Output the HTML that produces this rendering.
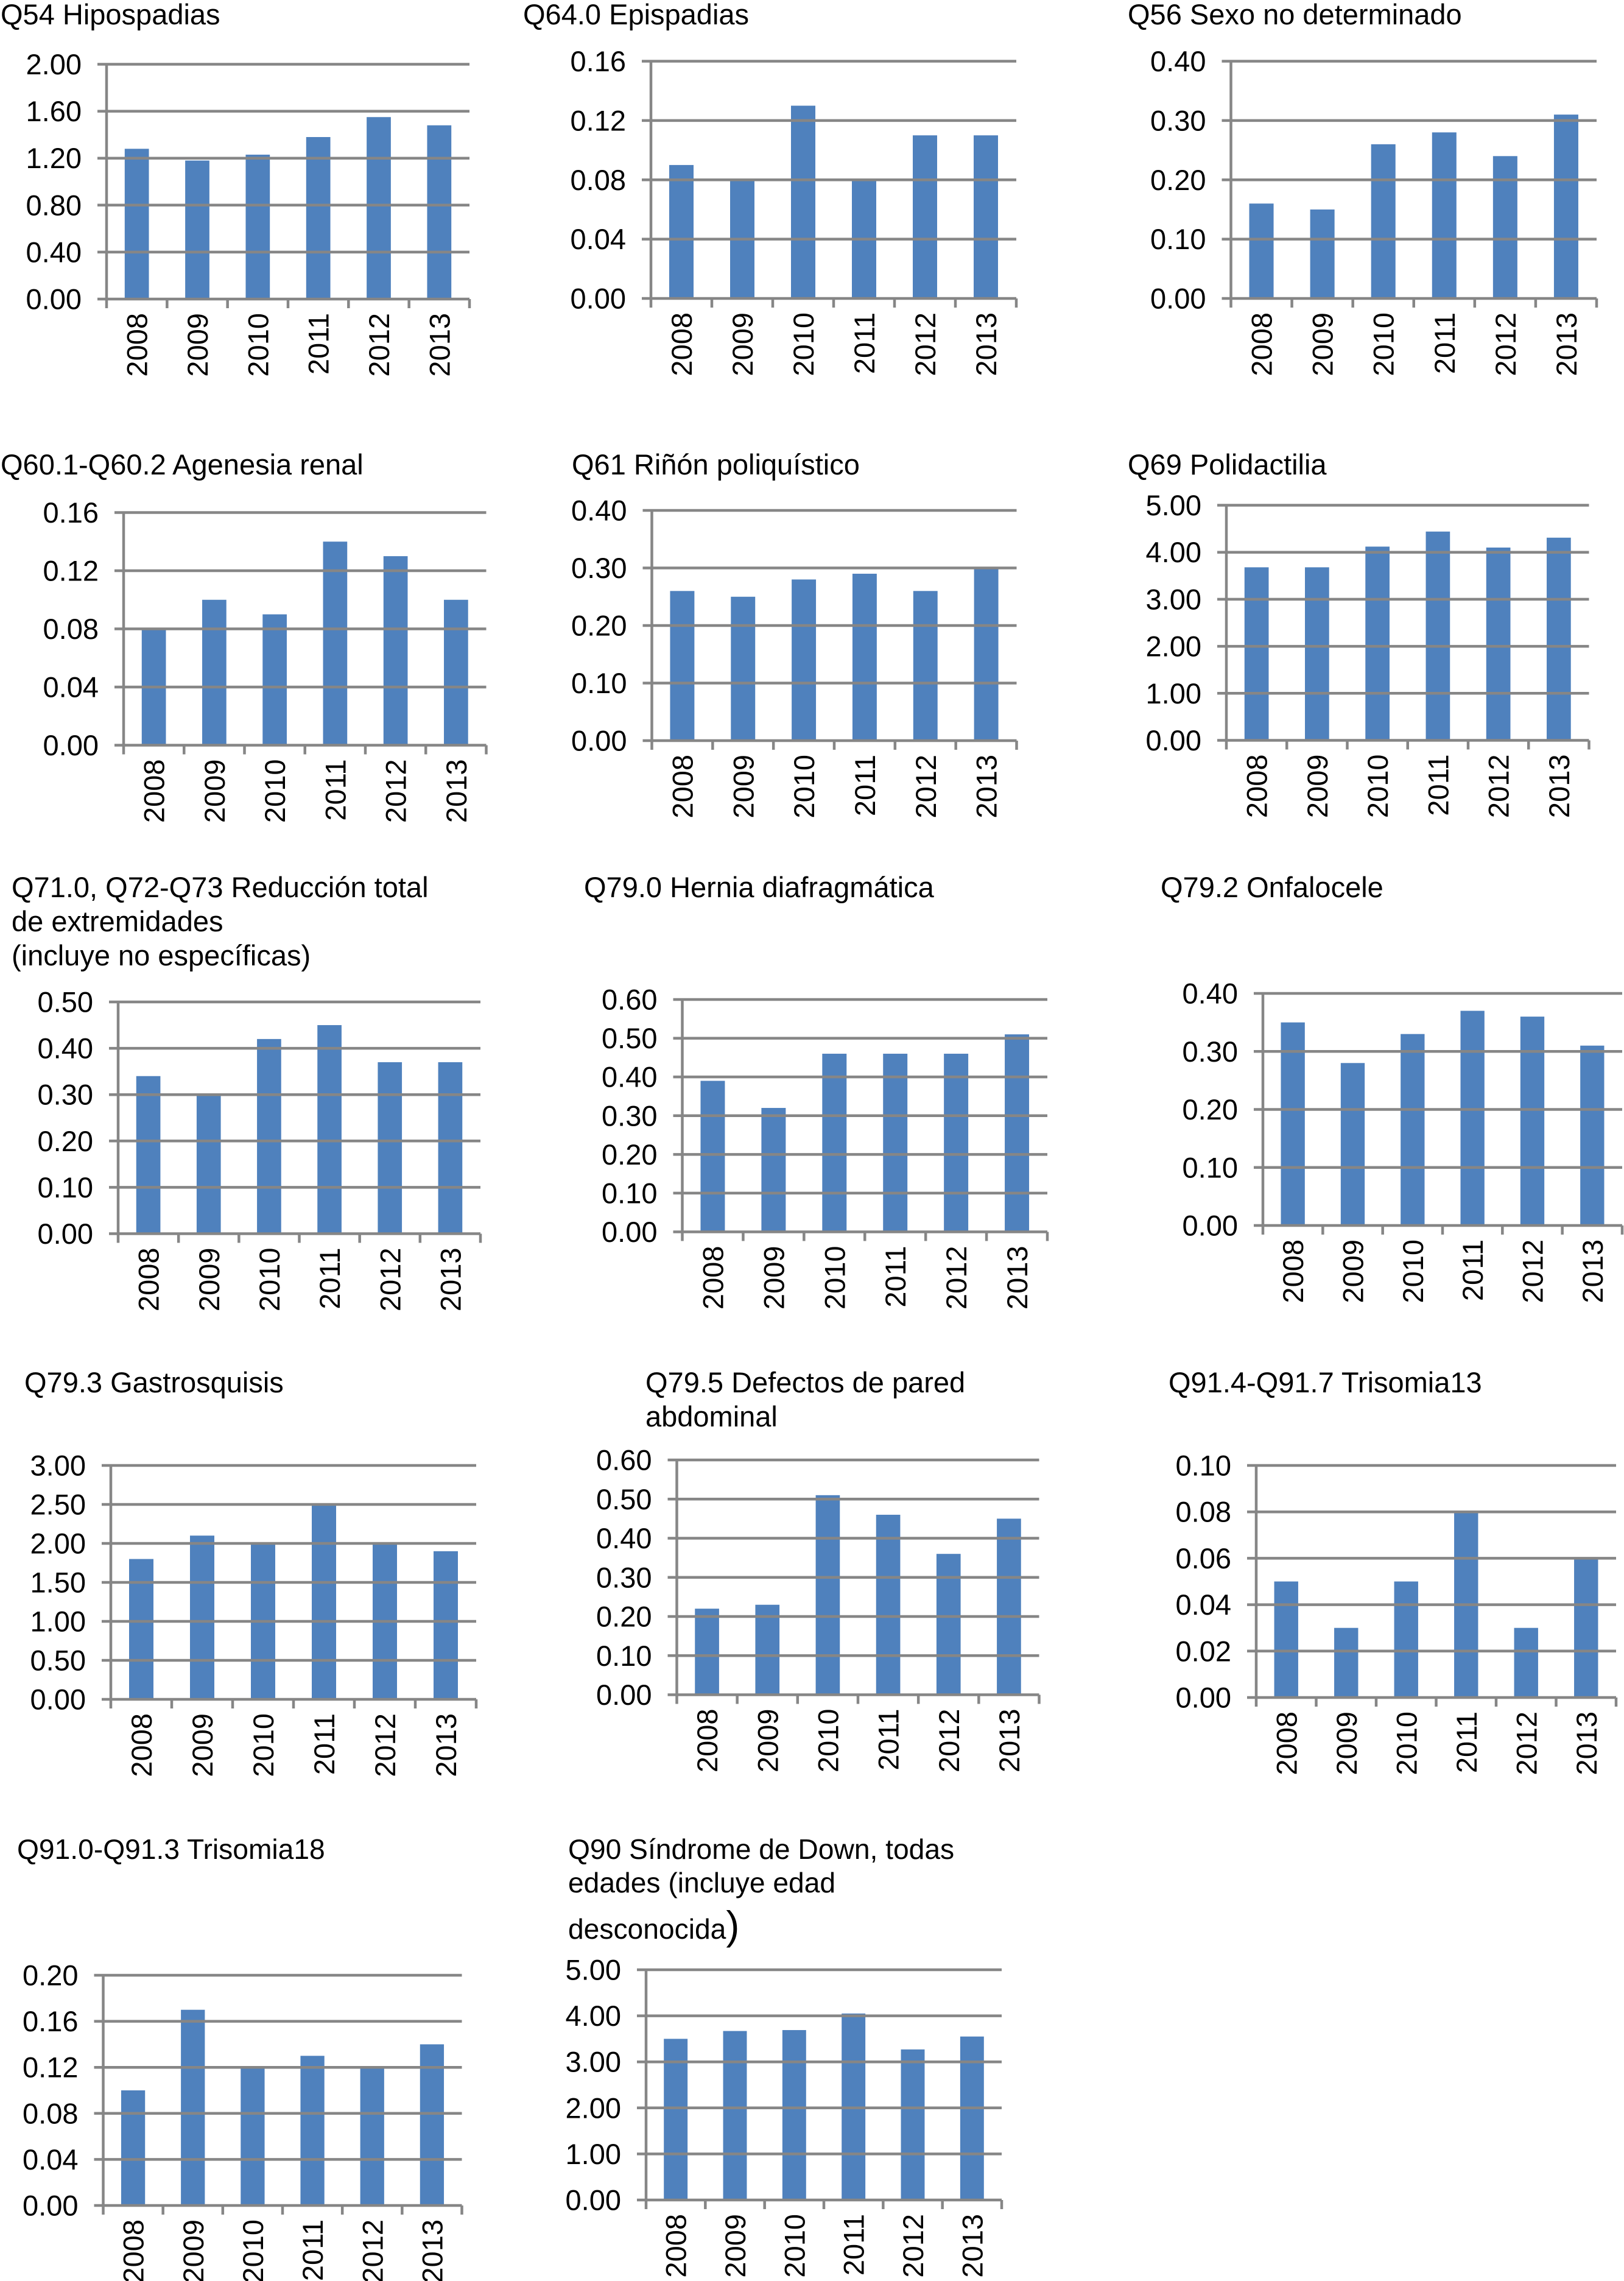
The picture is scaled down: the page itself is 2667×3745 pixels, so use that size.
<!DOCTYPE html>
<html lang="es">
<head>
<meta charset="utf-8">
<title>Anomalías congénitas 2008-2013</title>
<style>
html,body{margin:0;padding:0;background:#fff;width:2667px;height:3745px;overflow:hidden}
svg{display:block;position:absolute;left:0;top:0}
text{font-family:"Liberation Sans",sans-serif;fill:#000}
.title{font-size:47px}
.title.small{font-size:46.2px}
.tick{font-size:47px}
</style>
</head>
<body>
<svg id="figure" width="2667" height="3745" viewBox="0 0 2667 3745" xmlns="http://www.w3.org/2000/svg">
  <rect x="0" y="0" width="2667" height="3745" fill="#ffffff"/>

  <text class="title" x="1" y="40">Q54 Hipospadias</text>
  <text class="title" x="859" y="40">Q64.0 Epispadias</text>
  <text class="title" x="1852" y="40">Q56 Sexo no determinado</text>

  <text class="title" x="1" y="779">Q60.1-Q60.2 Agenesia renal</text>
  <text class="title" x="939" y="779">Q61 Riñón poliquístico</text>
  <text class="title" x="1852" y="779">Q69 Polidactilia</text>

  <text class="title" x="19" y="1473">Q71.0, Q72-Q73 Reducción total</text>
  <text class="title" x="19" y="1529">de extremidades</text>
  <text class="title" x="19" y="1585">(incluye no específicas)</text>
  <text class="title" x="959" y="1473">Q79.0 Hernia diafragmática</text>
  <text class="title" x="1906" y="1473">Q79.2 Onfalocele</text>

  <text class="title" x="40" y="2286">Q79.3 Gastrosquisis</text>
  <text class="title" x="1060" y="2286">Q79.5 Defectos de pared</text>
  <text class="title" x="1060" y="2342">abdominal</text>
  <text class="title" x="1919" y="2286">Q91.4-Q91.7 Trisomia13</text>

  <text class="title small" x="28" y="3052">Q91.0-Q91.3 Trisomia18</text>
  <text class="title small" x="933" y="3052">Q90 Síndrome de Down, todas</text>
  <text class="title small" x="933" y="3107">edades (incluye edad</text>
  <text class="title small" x="933" y="3183">desconocida<tspan font-size="66" dy="1">)</tspan></text>

  <g id="chart-q54"></g>
  <g id="chart-q64"></g>
  <g id="chart-q56"></g>
  <g id="chart-q60"></g>
  <g id="chart-q61"></g>
  <g id="chart-q69"></g>
  <g id="chart-q71"></g>
  <g id="chart-q790"></g>
  <g id="chart-q792"></g>
  <g id="chart-q793"></g>
  <g id="chart-q795"></g>
  <g id="chart-q914"></g>
  <g id="chart-q910"></g>
  <g id="chart-q90"></g>
</svg>
<script>
var categories = ['2008', '2009', '2010', '2011', '2012', '2013'];

var q54Values = [1.28, 1.18, 1.23, 1.38, 1.55, 1.48];
var q54Ticks = ['0.00', '0.40', '0.80', '1.20', '1.60', '2.00'];
var q64Values = [0.09, 0.08, 0.13, 0.08, 0.11, 0.11];
var q64Ticks = ['0.00', '0.04', '0.08', '0.12', '0.16'];
var q56Values = [0.16, 0.15, 0.26, 0.28, 0.24, 0.31];
var q56Ticks = ['0.00', '0.10', '0.20', '0.30', '0.40'];
var q60Values = [0.08, 0.10, 0.09, 0.14, 0.13, 0.10];
var q60Ticks = ['0.00', '0.04', '0.08', '0.12', '0.16'];
var q61Values = [0.26, 0.25, 0.28, 0.29, 0.26, 0.30];
var q61Ticks = ['0.00', '0.10', '0.20', '0.30', '0.40'];
var q69Values = [3.68, 3.68, 4.12, 4.44, 4.10, 4.31];
var q69Ticks = ['0.00', '1.00', '2.00', '3.00', '4.00', '5.00'];
var q71Values = [0.34, 0.30, 0.42, 0.45, 0.37, 0.37];
var q71Ticks = ['0.00', '0.10', '0.20', '0.30', '0.40', '0.50'];
var q790Values = [0.39, 0.32, 0.46, 0.46, 0.46, 0.51];
var q790Ticks = ['0.00', '0.10', '0.20', '0.30', '0.40', '0.50', '0.60'];
var q792Values = [0.35, 0.28, 0.33, 0.37, 0.36, 0.31];
var q792Ticks = ['0.00', '0.10', '0.20', '0.30', '0.40'];
var q793Values = [1.80, 2.10, 2.00, 2.49, 2.00, 1.90];
var q793Ticks = ['0.00', '0.50', '1.00', '1.50', '2.00', '2.50', '3.00'];
var q795Values = [0.22, 0.23, 0.51, 0.46, 0.36, 0.45];
var q795Ticks = ['0.00', '0.10', '0.20', '0.30', '0.40', '0.50', '0.60'];
var q914Values = [0.05, 0.03, 0.05, 0.08, 0.03, 0.06];
var q914Ticks = ['0.00', '0.02', '0.04', '0.06', '0.08', '0.10'];
var q910Values = [0.10, 0.17, 0.12, 0.13, 0.12, 0.14];
var q910Ticks = ['0.00', '0.04', '0.08', '0.12', '0.16', '0.20'];
var q90Values = [3.50, 3.67, 3.69, 4.05, 3.27, 3.55];
var q90Ticks = ['0.00', '1.00', '2.00', '3.00', '4.00', '5.00'];

var SVG_NS = 'http://www.w3.org/2000/svg';
var AXIS_COLOR = '#868686';
var BAR_COLOR = '#4f81bd';
var AXIS_WIDTH = 4.5;
var TICK_LEN = 15;

function makeEl(parent, tag, attrs) {
  var el = document.createElementNS(SVG_NS, tag);
  for (var k in attrs) { el.setAttribute(k, attrs[k]); }
  parent.appendChild(el);
  return el;
}

function drawChart(id, values, ticks, left, right, top, bottom) {
  var group = document.getElementById(id);
  var domainMin = parseFloat(ticks[0]);
  var domainMax = parseFloat(ticks[ticks.length - 1]);
  function yScale(v) { return bottom - (v - domainMin) / (domainMax - domainMin) * (bottom - top); }
  var band = (right - left) / categories.length;
  function xBand(i) { return left + band * i; }
  var barWidth = band * 0.4;

  values.forEach(function (v, i) {
    var bar = makeEl(group, 'rect', {
      x: xBand(i) + (band - barWidth) / 2,
      y: yScale(v),
      width: barWidth,
      height: bottom - yScale(v),
      fill: BAR_COLOR
    });
    
    
  });

  ticks.forEach(function (t) {
    var y = yScale(parseFloat(t));
    var grid = makeEl(group, 'line', {
      x1: left - TICK_LEN, x2: right, y1: y, y2: y,
      stroke: AXIS_COLOR, 'stroke-width': AXIS_WIDTH
    });
    
    
    var label = makeEl(group, 'text', {
      x: left - 41, y: y + 16.5, 'text-anchor': 'end', 'class': 'tick'
    });
    label.textContent = t;
    
    
  });

  var axis = makeEl(group, 'line', {
    x1: left, x2: left, y1: top - 2, y2: bottom + TICK_LEN,
    stroke: AXIS_COLOR, 'stroke-width': AXIS_WIDTH
  });
  
  

  categories.forEach(function (c, i) {
    var tx = xBand(i + 1);
    var tick = makeEl(group, 'line', {
      x1: tx, x2: tx, y1: bottom, y2: bottom + TICK_LEN,
      stroke: AXIS_COLOR, 'stroke-width': AXIS_WIDTH
    });
    
    
    var cx = xBand(i) + band / 2 + 17;
    var cy = bottom + 23;
    var label = makeEl(group, 'text', {
      x: cx, y: cy, 'text-anchor': 'end', 'class': 'tick',
      transform: 'rotate(-90 ' + cx + ' ' + cy + ')'
    });
    label.textContent = c;
    
    
  });
}

drawChart('chart-q54', q54Values, q54Ticks, 175, 771, 105.5, 491);
drawChart('chart-q64', q64Values, q64Ticks, 1069, 1669, 100.5, 490);
drawChart('chart-q56', q56Values, q56Ticks, 2021.5, 2622, 100.5, 490);
drawChart('chart-q60', q60Values, q60Ticks, 203, 798.5, 841.5, 1223.5);
drawChart('chart-q61', q61Values, q61Ticks, 1070.5, 1669.5, 838, 1216);
drawChart('chart-q69', q69Values, q69Ticks, 2014, 2609.5, 829.5, 1215.5);
drawChart('chart-q71', q71Values, q71Ticks, 194, 789, 1645, 2025.5);
drawChart('chart-q790', q790Values, q790Ticks, 1120.5, 1720, 1641, 2022.5);
drawChart('chart-q792', q792Values, q792Ticks, 2074, 2664, 1631, 2012);
drawChart('chart-q793', q793Values, q793Ticks, 182, 782, 2406, 2790);
drawChart('chart-q795', q795Values, q795Ticks, 1111.5, 1706.5, 2397, 2782.5);
drawChart('chart-q914', q914Values, q914Ticks, 2063, 2654, 2406, 2787);
drawChart('chart-q910', q910Values, q910Ticks, 169.5, 758.5, 3243, 3621);
drawChart('chart-q90', q90Values, q90Ticks, 1061, 1645, 3234, 3612);
</script>
</body>
</html>
